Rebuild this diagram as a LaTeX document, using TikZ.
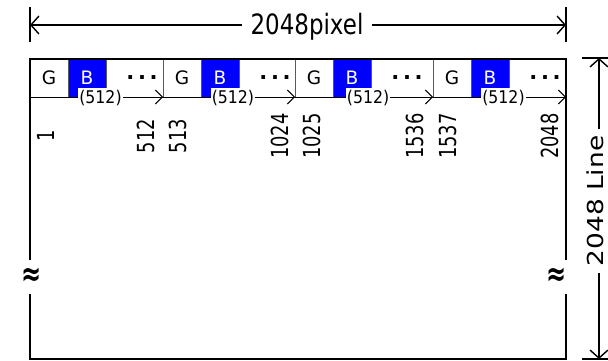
\documentclass[tikz,border=0pt]{standalone}
\usepackage{fontspec}
\usepackage{graphicx}
\setmainfont{DejaVu Sans}
\usetikzlibrary{arrows.meta}
\definecolor{cellblue}{RGB}{0,0,255}
\definecolor{sepgray}{RGB}{90,90,90}
\tikzset{
  dimline/.style={line width=1.4pt,{Straight Barb[length=8pt,width=18pt]}-{Straight Barb[length=8pt,width=18pt]}},
  tick/.style={line width=1.6pt},
  frame/.style={line width=2.2pt},
  cellbase/.style={draw=sepgray,line width=0.8pt,minimum height=38pt,inner sep=0pt,font=\fontsize{18.5}{18}\selectfont},
  gcell/.style={cellbase,fill=white,minimum width=38pt},
  bcell/.style={cellbase,fill=cellblue,text=white,minimum width=38pt},
  dcell/.style={cellbase,fill=white},
  dots/.style={inner sep=0pt,font=\fontsize{21}{21}\selectfont\bfseries},
  rowarrow/.style={line width=0.9pt,-{Straight Barb[length=7pt,width=14pt]}},
  lbl/.style={fill=white,inner xsep=1pt,inner ysep=3pt,font=\fontsize{17.5}{18}\selectfont,yshift=-1.5pt},
  num/.style={rotate=90,inner sep=0pt,font=\fontsize{23.5}{24}\selectfont},
  approx/.style={inner sep=0pt,font=\fontsize{24}{24}\selectfont\bfseries},
  dimlbl/.style={fill=white,inner sep=0pt}
}
\begin{document}
\begin{tikzpicture}[x=1pt,y=-1pt]
\useasboundingbox (0,0) rectangle (608,361);
% top dimension
\coordinate (tLt) at (30,7);  \coordinate (tLb) at (30,42);
\coordinate (tRt) at (566,7); \coordinate (tRb) at (566,42);
\coordinate (dL) at (30,25);  \coordinate (dR) at (566,25);
\draw[tick] (tLt) -- (tLb);
\draw[tick] (tRt) -- (tRb);
\draw[dimline] (dL) -- (dR);
\node[dimlbl,anchor=base,inner xsep=9pt,inner ysep=2pt] (wlabel) at (307,35)
  {\fontsize{28}{28}\selectfont\scalebox{0.82}[1]{2048pixel}};
% cells
\foreach \i/\s/\e in {1/30/163,2/163/295,3/295/433,4/433/566}{
  \node[gcell] (g\i) at (\s+19,78) {G};
  \node[bcell] (b\i) at (\s+57,78) {B};
  \pgfmathsetmacro\dw{\e-\s-76}
  \node[dcell,minimum width=\dw pt] (d\i) at ({(\s+76+\e)/2},78) {};
  \node[dots] (p\i) at (\s+112,78) {.\kern3.6pt.\kern3.6pt.};
}
% row arrows
\coordinate (r0) at (30,97);
\coordinate (r1) at (163,97);
\coordinate (r2) at (295,97);
\coordinate (r3) at (433,97);
\coordinate (r4) at (566,97);
\draw[rowarrow] (r0) -- node[lbl,pos=0.53] (l1) {\scalebox{0.9}[1]{(512)}} (r1);
\draw[rowarrow] (r1) -- node[lbl,pos=0.53] (l2) {\scalebox{0.9}[1]{(512)}} (r2);
\draw[rowarrow] (r2) -- node[lbl,pos=0.53] (l3) {\scalebox{0.9}[1]{(512)}} (r3);
\draw[rowarrow] (r3) -- node[lbl,pos=0.53] (l4) {\scalebox{0.9}[1]{(512)}} (r4);
% pixel numbers
\foreach \n/\x in {1/46,512/146,513/178,1024/280,1025/312,1536/415,1537/448,2048/550}{
  \node[num] (n\n) at (\x,136) {\scalebox{0.76}[1]{\n}};
}
% frame
\coordinate (fTL) at (30,59);
\coordinate (fTR) at (566,59);
\coordinate (fBL) at (30,359);
\coordinate (fBR) at (566,359);
\coordinate (fL1) at (30,260);
\coordinate (fL2) at (30,294);
\coordinate (fR1) at (566,260);
\coordinate (fR2) at (566,294);
\draw[frame] (fL1) -- (fTL) -- (fTR) -- (fR1);
\draw[frame] (fL2) -- (fBL) -- (fBR) -- (fR2);
\node[approx] (a1) at (32,277) {\scalebox{1}[1.4]{≈}};
\node[approx] (a2) at (557,277) {\scalebox{1}[1.4]{≈}};
% right dimension
\coordinate (hTa) at (582,58);  \coordinate (hTb) at (608,58);
\coordinate (hBa) at (582,359); \coordinate (hBb) at (608,359);
\coordinate (vT) at (599,58);   \coordinate (vB) at (599,359);
\draw[tick] (hTa) -- (hTb);
\draw[tick] (hBa) -- (hBb);
\draw[dimline] (vT) -- (vB);
\node[dimlbl,rotate=90,inner xsep=7pt,inner ysep=1pt] (hlabel) at (595,201)
  {\fontsize{22}{22}\selectfont\scalebox{1.2}[1]{2048 Line}};
\end{tikzpicture}
\end{document}
